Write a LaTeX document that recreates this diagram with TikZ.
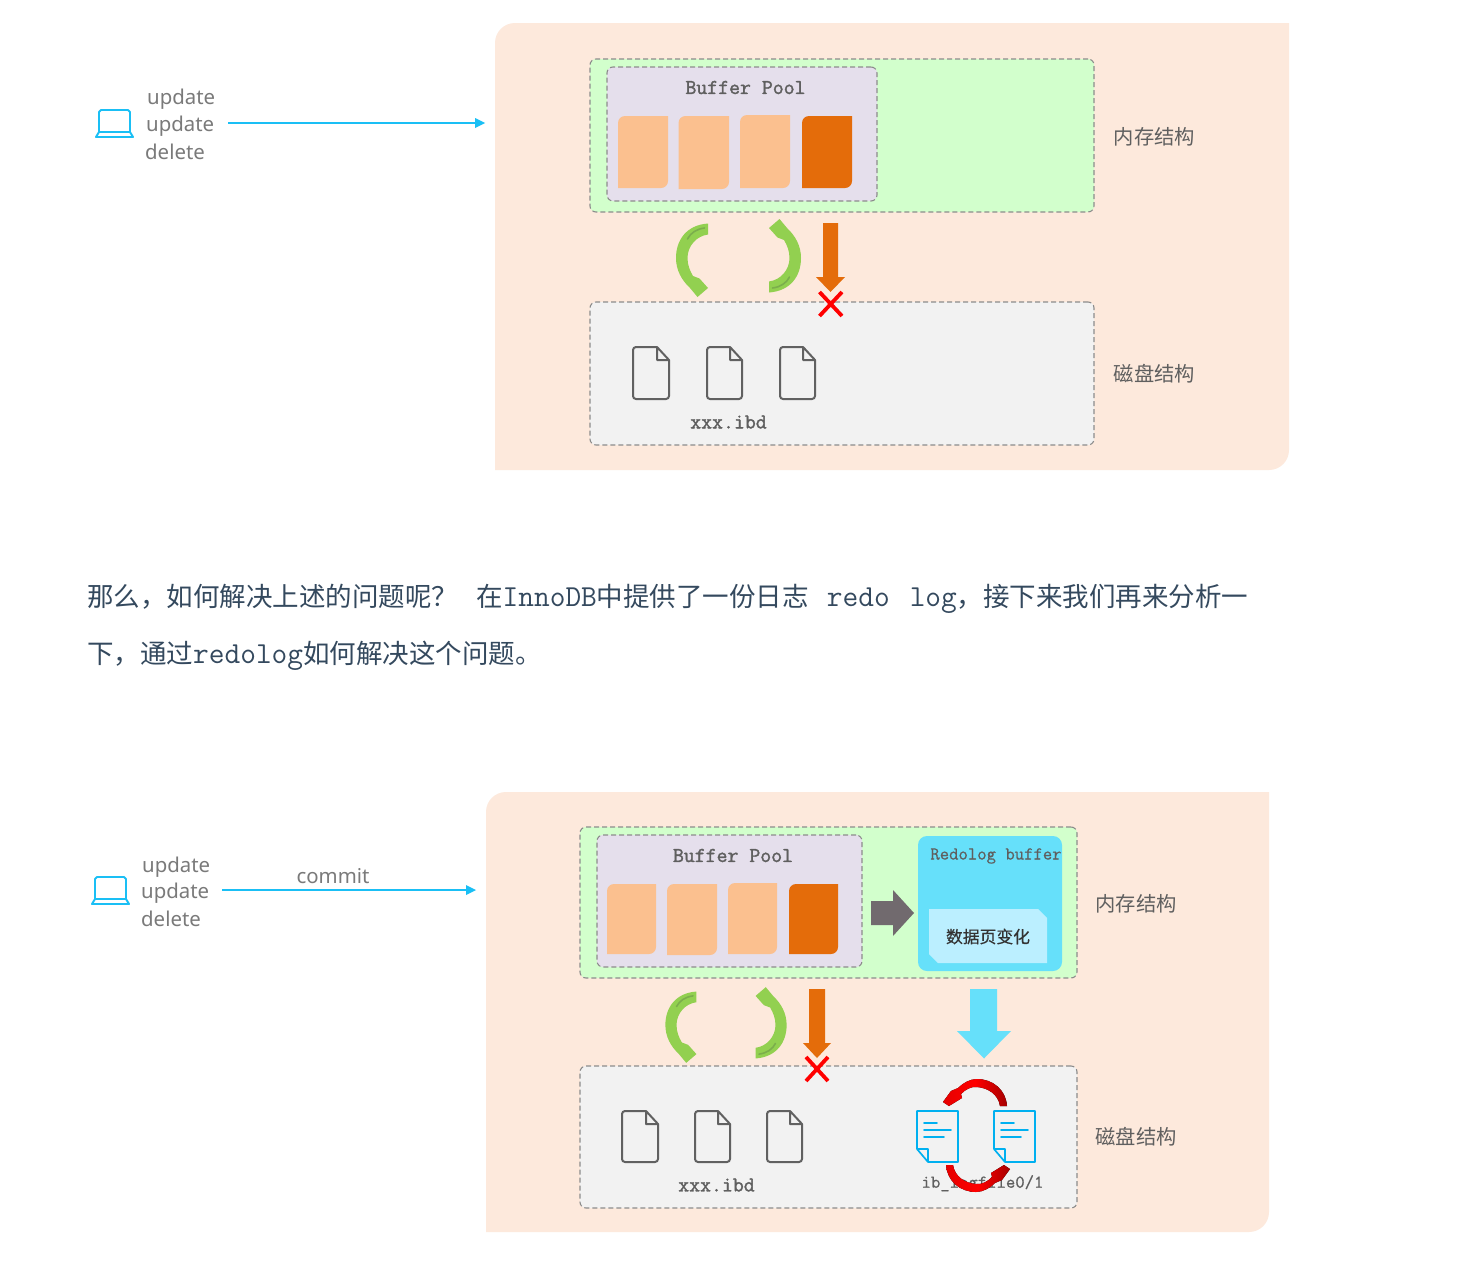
\documentclass[tikz,border=0pt]{standalone}
\usepackage{fontspec}
\setmainfont{Noto Sans}
\newfontfamily\cjk{Noto Sans CJK SC}
\newfontfamily\lmono{Latin Modern Mono}
\usetikzlibrary{calc}
\definecolor{panelc}{HTML}{FDE9DC}
\definecolor{memc}{HTML}{D2FFCC}
\definecolor{poolc}{HTML}{E5DFEC}
\definecolor{diskc}{HTML}{F2F2F2}
\definecolor{blockc}{HTML}{FBC08F}
\definecolor{hotc}{HTML}{E46C0A}
\definecolor{skyc}{HTML}{1ABFF5}
\definecolor{redoc}{HTML}{66E0FA}
\definecolor{notec}{HTML}{BBEFFF}
\definecolor{greenc}{HTML}{92D050}
\definecolor{greend}{HTML}{7BAE4C}
\definecolor{dashc}{HTML}{8C8C8C}
\definecolor{inkc}{HTML}{5F5F5F}
\definecolor{paperc}{HTML}{34495E}
\definecolor{docc}{HTML}{00B0F0}
\definecolor{movec}{HTML}{716A6E}
\newcommand{\paratt}{\lmono\fontsize{30.5}{30.5}\selectfont}
\tikzset{
  dashedge/.style={draw=dashc,dash pattern=on 5 off 3,rounded corners=6,line width=1.1},
  membox/.style={fill=memc,dashedge},
  poolbox/.style={fill=poolc,dashedge},
  diskbox/.style={fill=diskc,dashedge},
  redobox/.style={fill=redoc,rounded corners=9},
  sidelabel/.style={font=\cjk\fontsize{20.3}{20}\selectfont,text=inkc,inner sep=0},
  oplabel/.style={font=\fontsize{20.4}{22}\selectfont,text=black!52,inner sep=0,anchor=base west},
  ttlabel/.style={font=\lmono\fontsize{21.2}{20}\selectfont\addfontfeature{FakeBold=1.6},text=inkc,inner sep=0},
  ttsmall/.style={font=\lmono\fontsize{18.2}{18}\selectfont\addfontfeature{FakeBold=0.6},text=inkc,inner sep=0},
  para/.style={font=\cjk\fontsize{26.5}{26.5}\selectfont,text=paperc,inner sep=0,anchor=base west},
  fileline/.style={draw=black!62,line width=2,line join=round,fill=none},
  docline/.style={draw=docc,line width=1.7,line join=round,line cap=round},
}
% name x1 y1 x2 y2 style
\newcommand{\areabox}[6]{%
  \pgfmathsetmacro{\boxw}{#4-#2}\pgfmathsetmacro{\boxh}{#5-#3}%
  \node[#6,anchor=north west,inner sep=0,outer sep=0,minimum width=\boxw pt,minimum height=\boxh pt] (#1) at (#2,#3) {};}
% x1 y1 x2 y2 colour: page block, TL and BR rounded
\newcommand{\pageblock}[5]{%
  \pgfmathsetmacro{\bya}{#2+7}\pgfmathsetmacro{\bxa}{#1+7}%
  \pgfmathsetmacro{\byb}{#4-7}\pgfmathsetmacro{\bxb}{#3-7}%
  \fill[#5] (#1,#4) -- (#1,\bya) to[out=90,in=180] (\bxa,#2) -- (#3,#2) -- (#3,\byb) to[out=-90,in=0] (\bxb,#4) -- cycle;}
% x1 x2 y1 y2: file icon
\newcommand{\fileicon}[4]{%
  \pgfmathsetmacro{\ffx}{#2-12}\pgfmathsetmacro{\ffy}{#3+13}\pgfmathsetmacro{\fxl}{#1+3}\pgfmathsetmacro{\fxr}{#2-3}%
  \pgfmathsetmacro{\fyt}{#3+3}\pgfmathsetmacro{\fyb}{#4-3}%
  \draw[fileline] (\ffx,#3) -- (\fxl,#3) to[out=180,in=90] (#1,\fyt) -- (#1,\fyb) to[out=-90,in=180] (\fxl,#4) -- (\fxr,#4) to[out=0,in=-90] (#2,\fyb) -- (#2,\ffy) -- (\ffx,#3) -- (\ffx,\ffy) -- (#2,\ffy);}
% laptop: x y (screen top-left)
\newcommand{\laptop}[2]{%
  \begin{scope}[shift={(#1,#2)}]
  \draw[skyc,line width=1.9,line join=round] (0,22) -- (0,2) -- (2,0) -- (29,0) -- (31,2) -- (31,22);
  \draw[skyc,line width=1.9,line join=round] (0,22) -- (31,22) -- (34,27) -- (-3,27) -- cycle;
  \end{scope}}
% two green curved arrows around a centre
\newcommand{\greenpair}[3]{%
  \begin{scope}[shift={(#1,#2)},scale=#3]
  \foreach \rotang in {0,180}{
  \begin{scope}[rotate=\rotang]
  \fill[greenc] (-30.5,-34.5) .. controls (-52,-33) and (-62.5,-18) .. (-62.5,0)
     .. controls (-62.5,12) and (-57,22) .. (-48.5,30) -- (-41,39) -- (-30.5,30) -- (-39,20.5) -- (-45.5,18)
     .. controls (-48.5,13) and (-51,7) .. (-51,0)
     .. controls (-51,-12) and (-42,-22) .. (-30.5,-23.5) -- cycle;
  \draw[greend,line width=1.6,line cap=round] (-34,-30) .. controls (-42,-29) and (-48,-25) .. (-51,-19);
  \end{scope}}
  \end{scope}}
% shaft x1 x2, head x1 x2, y top, y head, tip x, colour
\newcommand{\downarrowfill}[8]{%
  \pgfmathsetmacro{\tipy}{#6+15}%
  \fill[#8] (#1,#5) -- (#2,#5) -- (#2,#6) -- (#4,#6) -- (#7,\tipy) -- (#3,#6) -- (#1,#6) -- cycle;}
\newcommand{\redx}[4]{%
  \draw[red,line width=3.8] (#1,#2) -- (#3,#4) (#1,#4) -- (#3,#2);}
% document icon: x y (top-left)
\newcommand{\docicon}[2]{%
  \begin{scope}[shift={(#1,#2)}]
  \draw[docline] (0,38) -- (0,0) -- (41,0) -- (41,51) -- (11,51) -- (0,38) -- (11,38) -- (11,51);
  \draw[docline] (7,12) -- (20,12) (7,19) -- (34,19) (7,26) -- (27,26);
  \end{scope}}
\newcommand{\redsweep}{%
  \fill[left color=red!90!black,right color=red!65!black,middle color=red]
   (1007,1106) .. controls (1006,1090) and (993,1079) .. (977,1079)
   .. controls (970,1079) and (963,1083) .. (958,1088) -- (951,1091) -- (943,1102) -- (949,1106) -- (962,1098) -- (961,1094)
   .. controls (966,1089) and (971,1086.5) .. (977,1087)
   .. controls (988,1088) and (998,1094) .. (1000,1106) -- cycle;}
\begin{document}
\begin{tikzpicture}[x=1pt,y=-1pt]
\useasboundingbox[fill=white] (0,0) rectangle (1460,1266);

%%%%% upper panel
\fill[panelc] (495,470) -- (495,43) to[out=90,in=180] (515,23) -- (1289,23) -- (1289,450) to[out=-90,in=0] (1269,470) -- cycle;
\areabox{memA}{590}{59}{1094}{212}{membox}
\areabox{poolA}{607}{67}{877}{201}{poolbox}
\node[ttlabel] (bufA) at (745.5,87.5) {Buffer Pool};
\pageblock{618}{116}{668}{188}{blockc}
\pageblock{678.5}{116}{729}{189}{blockc}
\pageblock{740}{115}{790}{188}{blockc}
\pageblock{802}{116}{852}{188}{hotc}
\greenpair{738.5}{258}{1}
\downarrowfill{823}{838}{816}{845}{223}{277}{830.5}{hotc}
\areabox{diskA}{590}{302}{1094}{445}{diskbox}
\redx{819.5}{292}{842}{316}
\fileicon{633}{669}{347}{399}
\fileicon{707}{742}{347}{399}
\fileicon{780}{815}{347}{399}
\node[ttlabel] (ibdA) at (728.5,422) {xxx.ibd};
\node[sidelabel] (memlabA) at (1154.5,137) {内存结构};
\node[sidelabel] (disklabA) at (1154.5,373.5) {磁盘结构};
\laptop{99}{110}
\node[oplabel] (opA1) at (147,104) {update};
\node[oplabel] (opA2) at (146,131) {update};
\node[oplabel] (opA3) at (145,159) {delete};
\coordinate (fromA) at (228,123);
\coordinate (toA) at (485,123);
\draw[skyc,line width=2.8] (fromA) -- (476,123);
\fill[skyc] (toA) -- (475,118) -- (475,128) -- cycle;

%%%%% paragraph
\node[para] (lineone) at (87,606) {那么，如何解决上述的问题呢？\hspace{18pt}在{\paratt InnoDB}中提供了一份日志\hspace{18pt}{\paratt redo\hspace{20pt}log}，接下来我们再来分析一};
\node[para] (linetwo) at (87,663) {下，通过{\paratt redolog}如何解决这个问题。};

%%%%% lower panel
\fill[panelc] (486,1232) -- (486,812) to[out=90,in=180] (506,792) -- (1269,792) -- (1269,1212) to[out=-90,in=0] (1249,1232) -- cycle;
\areabox{memB}{580}{827}{1077}{978}{membox}
\areabox{poolB}{597}{835}{862}{967}{poolbox}
\node[ttlabel] (bufB) at (733,855.5) {Buffer Pool};
\pageblock{607}{884}{656}{954}{blockc}
\pageblock{667}{884}{717}{955}{blockc}
\pageblock{728}{883}{777}{954}{blockc}
\pageblock{789}{884}{838}{954}{hotc}
\fill[movec] (871,901) -- (893,901) -- (893,890) -- (914,913) -- (893,936) -- (893,925) -- (871,925) -- cycle;
\areabox{redoB}{918}{836}{1062}{971}{redobox}
\node[ttsmall] (redotitle) at (996,856) {Redolog buffer};
\fill[notec] (929,909) -- (1038,909) -- (1047,918) -- (1047,963) -- (938,963) -- (929,954) -- cycle;
\node[font=\cjk\fontsize{16.8}{17}\selectfont\addfontfeature{FakeBold=0.5},text=black!80,inner sep=0] (notelab) at (988,936.5) {数据页变化};
\greenpair{726}{1025}{0.97}
\downarrowfill{809}{825}{803}{831}{989}{1043}{817}{hotc}
\fill[redoc] (970,989) -- (997,989) -- (997,1031) -- (1011,1031) -- (984,1058.5) -- (957,1031) -- (970,1031) -- cycle;
\areabox{diskB}{580}{1066}{1077}{1208}{diskbox}
\redx{806}{1057}{828}{1081}
\fileicon{622}{658}{1111}{1162}
\fileicon{695}{730}{1111}{1162}
\fileicon{767}{802}{1111}{1162}
\node[ttlabel] (ibdB) at (716.5,1185) {xxx.ibd};
\node[ttsmall] (logB) at (982.5,1183.5) {ib\_logfile0/1};
\docicon{917}{1111}
\docicon{994}{1111}
% red circular arrows
\redsweep
\begin{scope}[rotate around={180:(976.5,1135.5)}]
\redsweep
\end{scope}
\node[sidelabel] (memlabB) at (1136,904) {内存结构};
\node[sidelabel] (disklabB) at (1136,1137) {磁盘结构};
\laptop{95}{877}
\node[oplabel] (opB1) at (142,872) {update};
\node[oplabel] (opB2) at (141,898) {update};
\node[oplabel] (opB3) at (141,926) {delete};
\node[oplabel,anchor=center] (commitB) at (333,876) {commit};
\coordinate (fromB) at (222,890);
\coordinate (toB) at (476,890);
\draw[skyc,line width=2.8] (fromB) -- (467,890);
\fill[skyc] (toB) -- (466,885) -- (466,895) -- cycle;
\end{tikzpicture}
\end{document}
